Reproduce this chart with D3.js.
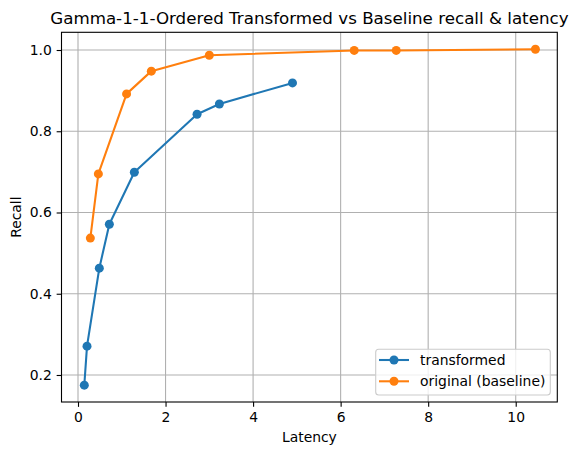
<!DOCTYPE html>
<html>
<head>
<meta charset="utf-8">
<script src="https://cdn.jsdelivr.net/npm/d3@7"></script>
<style>
  body { margin: 0; background: #fff; }
  svg text { font-family: "DejaVu Sans", sans-serif; fill: #000; }
</style>
</head>
<body>
<svg id="chart" width="577" height="455"></svg>
<script>
// values
const transformedLatency = [0.144, 0.206, 0.487, 0.716, 1.287, 2.72, 3.23, 4.90];
const transformedRecall  = [0.175, 0.271, 0.463, 0.571, 0.699, 0.842, 0.867, 0.919];
const baselineLatency = [0.282, 0.465, 1.11, 1.675, 3.0, 6.31, 7.27, 10.45];
const baselineRecall  = [0.537, 0.695, 0.892, 0.948, 0.987, 0.999, 0.999, 1.002];
const xTicks = [0, 2, 4, 6, 8, 10];
const yTicks = [0.2, 0.4, 0.6, 0.8, 1.0];
const seriesNames = ["transformed", "original (baseline)"];
const seriesColors = ["#1f77b4", "#ff7f0e"];

const plotLeft = 61.5, plotRight = 557.3, plotTop = 32.3, plotBottom = 402;
const svg = d3.select("#chart");

const x = d3.scaleLinear().domain([-0.377, 10.95]).range([plotLeft, plotRight]);
const y = d3.scaleLinear().domain([0.1335, 1.0436]).range([plotBottom, plotTop]);

// grid
const grid = svg.append("g").attr("stroke", "#b0b0b0").attr("stroke-width", 1.1);
xTicks.forEach(t => grid.append("line")
  .attr("x1", x(t)).attr("x2", x(t)).attr("y1", plotTop).attr("y2", plotBottom));
yTicks.forEach(t => grid.append("line")
  .attr("x1", plotLeft).attr("x2", plotRight).attr("y1", y(t)).attr("y2", y(t)));

// series
const series = [
  d3.zip(transformedLatency, transformedRecall),
  d3.zip(baselineLatency, baselineRecall)
];
const line = d3.line().x(d => x(d[0])).y(d => y(d[1]));
series.forEach((pts, i) => {
  svg.append("path")
    .datum(pts)
    .attr("d", line)
    .attr("fill", "none")
    .attr("stroke", seriesColors[i])
    .attr("stroke-width", 2.08)
    .attr("stroke-linejoin", "round")
    .attr("stroke-linecap", "square");
  svg.append("g").selectAll("circle")
    .data(pts)
    .enter()
    .append("circle")
    .attr("cx", d => x(d[0]))
    .attr("cy", d => y(d[1]))
    .attr("r", 4.5)
    .attr("fill", seriesColors[i]);
});

// axes
const xAxis = svg.append("g")
  .attr("transform", `translate(0,${plotBottom})`)
  .call(d3.axisBottom(x).tickValues(xTicks).tickSize(4.86).tickPadding(4.9).tickFormat(d3.format("d")));
const yAxis = svg.append("g")
  .attr("transform", `translate(${plotLeft},0)`)
  .call(d3.axisLeft(y).tickValues(yTicks).tickSize(4.86).tickPadding(4.9).tickFormat(d3.format(".1f")));
[xAxis, yAxis].forEach(a => {
  a.select(".domain").remove();
  a.selectAll("line").attr("stroke", "#000").attr("stroke-width", 1.1);
  a.selectAll("text").attr("font-size", 13.9).attr("font-family", "DejaVu Sans");
});

// frame
svg.append("rect")
  .attr("x", plotLeft).attr("y", plotTop)
  .attr("width", plotRight - plotLeft).attr("height", plotBottom - plotTop)
  .attr("fill", "none").attr("stroke", "#000").attr("stroke-width", 1.1);

// title and labels
const cx = (plotLeft + plotRight) / 2;
svg.append("text")
  .attr("x", cx).attr("y", 24)
  .attr("text-anchor", "middle").attr("font-size", 16.7)
  .text("Gamma-1-1-Ordered Transformed vs Baseline recall & latency");
svg.append("text")
  .attr("x", cx).attr("y", 442)
  .attr("text-anchor", "middle").attr("font-size", 13.9)
  .text("Latency");
svg.append("text")
  .attr("transform", `translate(21,${(plotTop + plotBottom) / 2}) rotate(-90)`)
  .attr("text-anchor", "middle").attr("font-size", 13.9)
  .text("Recall");

// legend
const legend = svg.append("g");
legend.append("rect")
  .attr("x", 375.7).attr("y", 349.3)
  .attr("width", 174.6).attr("height", 45.7)
  .attr("rx", 3).attr("fill", "#fff").attr("fill-opacity", 0.8)
  .attr("stroke", "#cccccc").attr("stroke-width", 1.1);
seriesNames.forEach((name, i) => {
  const ly = 360 + i * 21.3;
  legend.append("line")
    .attr("x1", 379).attr("x2", 409).attr("y1", ly).attr("y2", ly)
    .attr("stroke", seriesColors[i]).attr("stroke-width", 2.08);
  legend.append("circle")
    .attr("cx", 394).attr("cy", ly).attr("r", 4.5)
    .attr("fill", seriesColors[i]);
  legend.append("text")
    .attr("x", 420).attr("y", ly + 5)
    .attr("font-size", 13.9)
    .text(name);
});
</script>
</body>
</html>
